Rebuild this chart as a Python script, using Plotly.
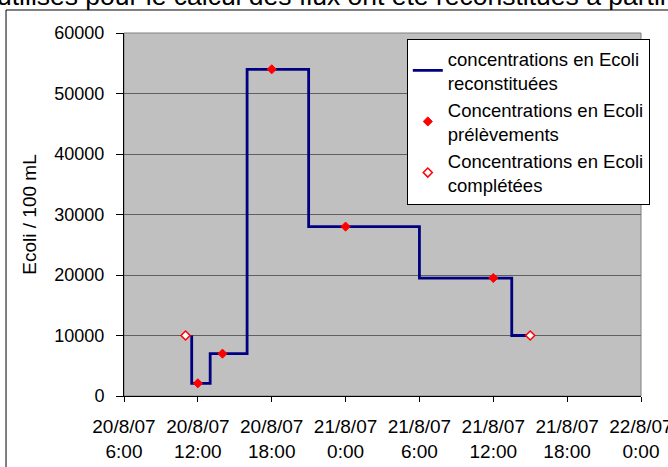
import plotly.graph_objects as go

# step line: concentrations reconstituées
step_times = [
    "2007-08-20 11:30", "2007-08-20 11:30", "2007-08-20 13:00", "2007-08-20 16:00",
    "2007-08-20 21:00", "2007-08-21 06:00", "2007-08-21 13:30", "2007-08-21 15:00",
]
step_vals = [10000, 2100, 7000, 54000, 28000, 19500, 10000, 10000]

# prélèvements
sample_times = [
    "2007-08-20 12:00", "2007-08-20 14:00", "2007-08-20 18:00",
    "2007-08-21 00:00", "2007-08-21 12:00",
]
sample_vals = [2100, 7000, 54000, 28000, 19500]

# complétées
completed_times = ["2007-08-20 11:00", "2007-08-21 15:00"]
completed_vals = [10000, 10000]

tick_vals = [
    "2007-08-20 06:00", "2007-08-20 12:00", "2007-08-20 18:00", "2007-08-21 00:00",
    "2007-08-21 06:00", "2007-08-21 12:00", "2007-08-21 18:00", "2007-08-22 00:00",
]
tick_text = [
    "20/8/07<br>6:00", "20/8/07<br>12:00", "20/8/07<br>18:00", "21/8/07<br>0:00",
    "21/8/07<br>6:00", "21/8/07<br>12:00", "21/8/07<br>18:00", "22/8/07<br>0:00",
]

FONT = "Liberation Sans, Arial, sans-serif"

fig = go.Figure()

fig.add_trace(
    go.Scatter(
        x=step_times,
        y=step_vals,
        mode="lines",
        line=dict(color="#000080", width=2.8, shape="hv"),
        name="concentrations en Ecoli<br>reconstituées",
        legendgroup="a",
    )
)
fig.add_trace(
    go.Scatter(
        x=sample_times,
        y=sample_vals,
        mode="markers",
        marker=dict(symbol="diamond", size=7, color="#FF0000",
                    line=dict(color="#FF0000", width=1)),
        name="Concentrations en Ecoli<br>prélèvements",
        legendgroup="b",
    )
)
fig.add_trace(
    go.Scatter(
        x=completed_times,
        y=completed_vals,
        mode="markers",
        marker=dict(symbol="diamond", size=7, color="white",
                    line=dict(color="#FF0000", width=1.5)),
        name="Concentrations en Ecoli<br>complétées",
        legendgroup="c",
    )
)

fig.update_xaxes(
    range=["2007-08-20 06:00", "2007-08-22 00:00"],
    tickvals=tick_vals,
    ticktext=tick_text,
    ticks="outside",
    ticklen=5,
    tickcolor="black",
    showline=True,
    linecolor="black",
    linewidth=1,
    showgrid=False,
    zeroline=False,
    automargin=False,
    ticklabeloverflow="allow",
    ticklabelstandoff=8,
    tickfont=dict(family=FONT, size=19, color="black"),
)
fig.update_yaxes(
    range=[0, 60000],
    dtick=10000,
    tickformat="d",
    ticks="outside",
    ticklen=7,
    tickcolor="black",
    showline=True,
    linecolor="black",
    linewidth=1,
    showgrid=True,
    gridcolor="#606060",
    gridwidth=1,
    zeroline=False,
    automargin=False,
    ticklabelstandoff=8,
    tickfont=dict(family=FONT, size=18, color="black"),
    title=dict(text="Ecoli / 100 mL", standoff=12,
               font=dict(family=FONT, size=19, color="black")),
)

fig.update_layout(
    width=668,
    height=467,
    margin=dict(l=124, r=27, t=33, b=71),
    plot_bgcolor="#C0C0C0",
    paper_bgcolor="white",
    font=dict(family=FONT, color="black"),
    showlegend=True,
    legend=dict(
        x=0.547,
        y=0.984,
        xanchor="left",
        yanchor="top",
        bgcolor="white",
        bordercolor="black",
        borderwidth=1,
        font=dict(family=FONT, size=18.5, color="black"),
        tracegroupgap=0,
    ),
    shapes=[
        # plot area border (top/right in gray)
        dict(type="rect", xref="x domain", yref="y domain", x0=0, x1=1, y0=0, y1=1,
             line=dict(color="#808080", width=1), layer="below"),
        # chart area frame
        dict(type="rect", xref="paper", yref="paper", x0=-0.2282, x1=1.2, y0=-0.3,
             y1=1.0634, line=dict(color="black", width=1)),
    ],
    annotations=[
        dict(
            text="utilisés pour le calcul des flux ont été reconstitués à partir des",
            xref="paper", yref="paper", x=-0.2495, y=1.0551,
            xanchor="left", yanchor="bottom", showarrow=False,
            font=dict(family=FONT, size=26.5, color="black"),
        )
    ],
)

# page body has a default 8px margin; drop it so the figure sits at the corner
fig.write_html(
    "out.html",
    config={"displayModeBar": False},
    post_script="document.body.style.margin='0';",
)
